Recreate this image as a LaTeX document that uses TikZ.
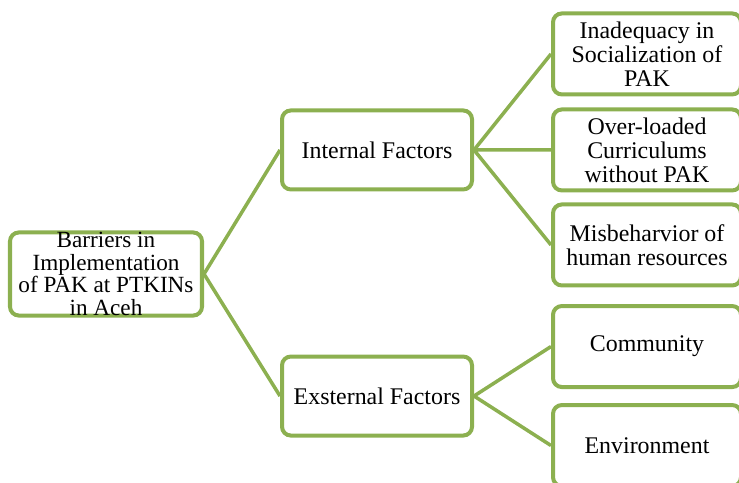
\documentclass[tikz,border=0pt]{standalone}
\usepackage{fontspec}
\setmainfont{Liberation Serif}
\usetikzlibrary{positioning}
\definecolor{leafgreen}{RGB}{140,176,80}
\tikzset{box/.style={draw=leafgreen, line width=2.85pt, rounded corners=0.22cm, fill=white,
                     align=center, inner sep=0pt, font=\fontsize{17}{17}\selectfont},
         mainbox/.style={box, minimum width=4.8cm, minimum height=2cm, font=\fontsize{16.5}{16}\selectfont},
         factorbox/.style={box, minimum width=4.75cm, minimum height=1.975cm},
         itembox/.style={box, minimum width=4.7cm, minimum height=2.025cm},
         link/.style={draw=leafgreen, line width=2.5pt}}

\begin{document}
\begin{tikzpicture}
    \clip (0,0) rectangle (18.475,-12.075);
    \node[mainbox] (barriers) at (2.65,-6.85) {Barriers in\\Implementation\\of PAK at PTKINs\\in Aceh};
    \node[factorbox, above right=0.975cm and 1.9cm of barriers] (internal) {Internal Factors};
    \node[factorbox, below right=0.925cm and 1.9cm of barriers] (external) {Exsternal Factors};
    \node[itembox, right=1.925cm of internal] (curriculum) {Over-loaded\\Curriculums\\without PAK};
    \node[itembox, above=0.275cm of curriculum] (socialization) {Inadequacy in\\Socialization of\\PAK};
    \node[itembox, below=0.25cm of curriculum] (misbehavior) {Misbeharvior of\\human resources};
    \coordinate[right=1.925cm of external] (extgap);
    \node[itembox, above right=0.175cm and 0cm of extgap] (community) {Community};
    \node[itembox, below right=0.175cm and 0cm of extgap] (environment) {Environment};
    \draw[link] (barriers.east) -- (internal.west)
                (barriers.east) -- (external.west)
                (internal.east) -- (socialization.west)
                (internal.east) -- (curriculum.west)
                (internal.east) -- (misbehavior.west)
                (external.east) -- (community.west)
                (external.east) -- (environment.west);
\end{tikzpicture}
\end{document}
